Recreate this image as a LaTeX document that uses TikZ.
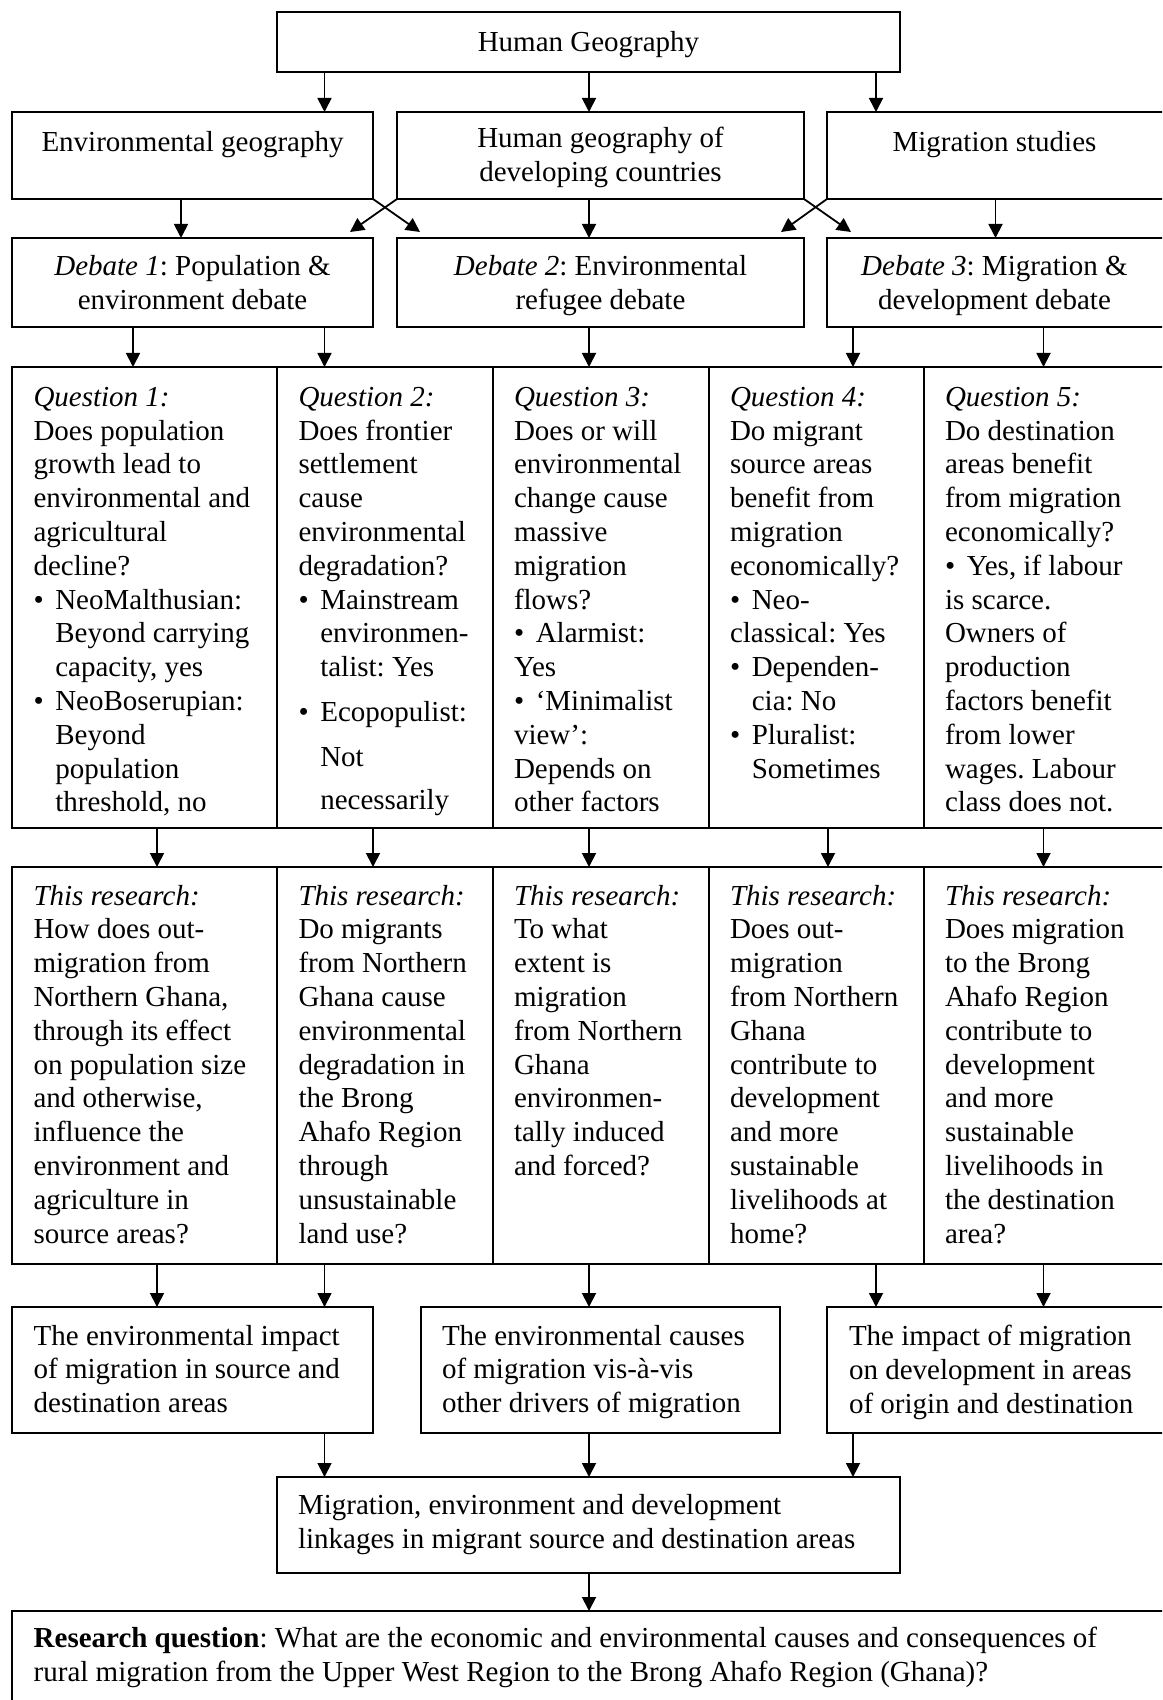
\documentclass[tikz,border=0pt]{standalone}
\usepackage{fontspec}
\setmainfont{Liberation Serif}
\usetikzlibrary{arrows.meta}
\frenchspacing
\newcommand{\fs}{\fontsize{14.5pt}{16.9pt}\selectfont\frenchspacing}
\newcommand{\mybox}[5]{\node[bx, minimum width={(#4-#2)*0.5pt}, minimum height={(#5-#3)*0.5pt}] (#1) at ({(#2+#4)/2},{(#3+#5)/2}) {};}
\newcommand{\mybul}{\makebox[10.9pt][l]{•}}
\newcommand{\hind}{\hspace*{10.9pt}}
\begin{document}
\begin{tikzpicture}[x=0.5pt,y=-0.5pt,
  bx/.style={draw, line width=1pt, inner sep=0pt, outer sep=0pt},
  txt/.style={inner sep=0pt, outer sep=0pt, anchor=north west, align=left, font=\fs, execute at begin node=\strut},
  ctxt/.style={txt, anchor=north, align=center},
  arr/.style={line width=0.9pt, -{Triangle[length=7pt,width=7pt]}}]
\useasboundingbox (0,0) rectangle (1162,1700);
\clip (0,0) rectangle (1162,1700);
% boxes
\mybox{hg}{277}{12}{900}{72}
\mybox{eg}{12}{112}{373}{199}
\mybox{hgdc}{397}{112}{804}{199}
\mybox{ms}{827}{112}{1164}{199}
\mybox{d1}{12}{238}{373}{327}
\mybox{d2}{397}{238}{804}{327}
\mybox{d3}{827}{238}{1164}{327}
\mybox{q1}{12}{367}{277}{828}
\mybox{q2}{277}{367}{492.5}{828}
\mybox{q3}{492.5}{367}{708.5}{828}
\mybox{q4}{708.5}{367}{923.5}{828}
\mybox{q5}{923.5}{367}{1164}{828}
\mybox{r1}{12}{867}{277}{1264}
\mybox{r2}{277}{867}{492.5}{1264}
\mybox{r3}{492.5}{867}{708.5}{1264}
\mybox{r4}{708.5}{867}{923.5}{1264}
\mybox{r5}{923.5}{867}{1164}{1264}
\mybox{ba}{12}{1307}{373}{1433}
\mybox{bb}{421}{1307}{780}{1433}
\mybox{bc}{827}{1307}{1164}{1433}
\mybox{syn}{277}{1477}{900}{1573}
\mybox{rq}{12}{1611}{1164}{1704}
% texts
\node[ctxt] (thg) at (588.5,28.3) {Human Geography};
\node[ctxt] (teg) at (192.5,127.5) {Environmental geography};
\node[ctxt] (thgdc) at (600.5,127.5) {Human geography of\\developing countries};
\node[ctxt] (tms) at (994.5,127.5) {Migration studies};
\node[ctxt] (td1) at (192.5,255.5) {\textit{Debate 1}: Population \&\\environment debate};
\node[ctxt] (td2) at (600.5,255.5) {\textit{Debate 2}: Environmental\\refugee debate};
\node[ctxt] (td3) at (994.5,255.5) {\textit{Debate 3}: Migration \&\\development debate};
\node[txt] (tq1) at (33.5,387) {\textit{Question 1:}\\
Does population\\
growth lead to\\
environmental and\\
agricultural\\
decline?\\
\mybul NeoMalthusian:\\
\hind Beyond carrying\\
\hind capacity, yes\\
\mybul NeoBoserupian:\\
\hind Beyond\\
\hind population\\
\hind threshold, no};
\node[txt] (tq2) at (298.5,387) {\textit{Question 2:}\\
Does frontier\\
settlement\\
cause\\
environmental\\
degradation?\\
\mybul Mainstream\\
\hind environmen-\\
\hind talist: Yes\\[5.5pt]
\mybul Ecopopulist:\\[5.5pt]
\hind Not\\[4.5pt]
\hind necessarily};
\node[txt] (tq3) at (514,387) {\textit{Question 3:}\\
Does or will\\
environmental\\
change cause\\
massive\\
migration\\
flows?\\
\mybul Alarmist:\\
Yes\\
\mybul ‘Minimalist\\
view’:\\
Depends on\\
other factors};
\node[txt] (tq4) at (730,387) {\textit{Question 4:}\\
Do migrant\\
source areas\\
benefit from\\
migration\\
economically?\\
\mybul Neo-\\
classical: Yes\\
\mybul Dependen-\\
\hind cia: No\\
\mybul Pluralist:\\
\hind Sometimes};
\node[txt] (tq5) at (945,387) {\textit{Question 5:}\\
Do destination\\
areas benefit\\
from migration\\
economically?\\
\mybul Yes, if labour\\
is scarce.\\
Owners of\\
production\\
factors benefit\\
from lower\\
wages. Labour\\
class does not.};
\node[txt] (tr1) at (33.5,885) {\textit{This research:}\\
How does out-\\
migration from\\
Northern Ghana,\\
through its effect\\
on population size\\
and otherwise,\\
influence the\\
environment and\\
agriculture in\\
source areas?};
\node[txt] (tr2) at (298.5,885) {\textit{This research:}\\
Do migrants\\
from Northern\\
Ghana cause\\
environmental\\
degradation in\\
the Brong\\
Ahafo Region\\
through\\
unsustainable\\
land use?};
\node[txt] (tr3) at (514,885) {\textit{This research:}\\
To what\\
extent is\\
migration\\
from Northern\\
Ghana\\
environmen-\\
tally induced\\
and forced?};
\node[txt] (tr4) at (730,885) {\textit{This research:}\\
Does out-\\
migration\\
from Northern\\
Ghana\\
contribute to\\
development\\
and more\\
sustainable\\
livelihoods at\\
home?};
\node[txt] (tr5) at (945,885) {\textit{This research:}\\
Does migration\\
to the Brong\\
Ahafo Region\\
contribute to\\
development\\
and more\\
sustainable\\
livelihoods in\\
the destination\\
area?};
\node[txt] (tba) at (33.7,1325) {The environmental impact\\of migration in source and\\destination areas};
\node[txt] (tbb) at (442,1325) {The environmental causes\\of migration vis-à-vis\\other drivers of migration};
\node[txt] (tbc) at (849,1325) {The impact of migration\\on development in areas\\of origin and destination};
\node[txt] (tsyn) at (298,1494.5) {Migration, environment and development\\linkages in migrant source and destination areas};
\node[txt] (trq) at (33.7,1627) {\textbf{Research question}: What are the economic and environmental causes and consequences of\\rural migration from the Upper West Region to the Brong Ahafo Region (Ghana)?};
% x positions
\coordinate (k133) at (133,0);
\coordinate (k157) at (157,0);
\coordinate (k181) at (181,0);
\coordinate (k324) at (324.5,0);
\coordinate (k373) at (373,0);
\coordinate (k589) at (589,0);
\coordinate (k828) at (828,0);
\coordinate (k853) at (853,0);
\coordinate (k876) at (876,0);
\coordinate (k995) at (995.5,0);
\coordinate (k1043) at (1043.5,0);
% free ends of crossing arrows
\coordinate (c1) at (420,232);
\coordinate (c2) at (350,232);
\coordinate (c3) at (851,232);
\coordinate (c4) at (781,232);
% arrows
\draw[arr] (hg.south -| k324) -- (eg.north -| k324);
\draw[arr] (hg.south -| k589) -- (hgdc.north -| k589);
\draw[arr] (hg.south -| k876) -- (ms.north -| k876);
\draw[arr] (eg.south -| k181) -- (d1.north -| k181);
\draw[arr] (hgdc.south -| k589) -- (d2.north -| k589);
\draw[arr] (ms.south -| k995) -- (d3.north -| k995);
\draw[arr] (eg.south east) -- (c1);
\draw[arr] (hgdc.south west) -- (c2);
\draw[arr] (hgdc.south east) -- (c3);
\draw[arr] (ms.south west) -- (c4);
\draw[arr] (d1.south -| k133) -- (q1.north -| k133);
\draw[arr] (d1.south -| k324) -- (q2.north -| k324);
\draw[arr] (d2.south -| k589) -- (q3.north -| k589);
\draw[arr] (d3.south -| k853) -- (q4.north -| k853);
\draw[arr] (d3.south -| k1043) -- (q5.north -| k1043);
\draw[arr] (q1.south -| k157) -- (r1.north -| k157);
\draw[arr] (q2.south -| k373) -- (r2.north -| k373);
\draw[arr] (q3.south -| k589) -- (r3.north -| k589);
\draw[arr] (q4.south -| k828) -- (r4.north -| k828);
\draw[arr] (q5.south -| k1043) -- (r5.north -| k1043);
\draw[arr] (r1.south -| k157) -- (ba.north -| k157);
\draw[arr] (r2.south -| k324) -- (ba.north -| k324);
\draw[arr] (r3.south -| k589) -- (bb.north -| k589);
\draw[arr] (r4.south -| k876) -- (bc.north -| k876);
\draw[arr] (r5.south -| k1043) -- (bc.north -| k1043);
\draw[arr] (ba.south -| k324) -- (syn.north -| k324);
\draw[arr] (bb.south -| k589) -- (syn.north -| k589);
\draw[arr] (bc.south -| k853) -- (syn.north -| k853);
\draw[arr] (syn.south -| k589) -- (rq.north -| k589);
\end{tikzpicture}
\end{document}
